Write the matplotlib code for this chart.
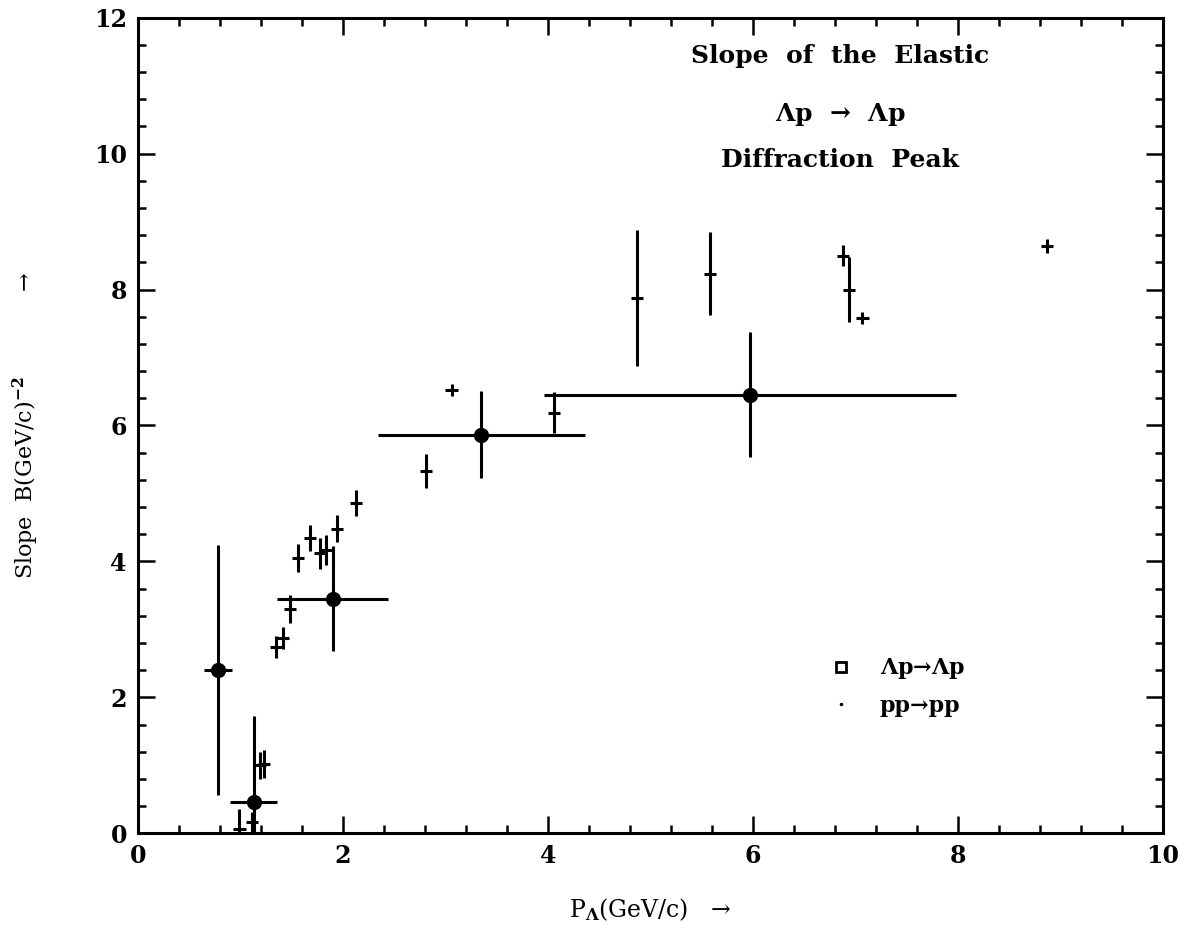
import matplotlib.pyplot as plt
from matplotlib.lines import Line2D
import numpy as np

# Lambda p -> Lambda p (filled circles, with momentum bins)
lp_x = [0.78, 1.13, 1.90, 3.35, 5.97]
lp_y = [2.40, 0.46, 3.45, 5.86, 6.45]
lp_xerr = [0.14, 0.23, 0.54, 1.01, 2.01]
lp_yerr = [1.84, 1.26, 0.77, 0.64, 0.92]

# pp -> pp (crosses)
pp_x = [0.99, 1.11, 1.19, 1.23, 1.35, 1.41, 1.48, 1.56, 1.68, 1.78, 1.83,
        1.94, 2.13, 2.81, 3.06, 4.06, 4.87, 5.58, 6.88, 6.94, 7.07, 8.87]
pp_y = [0.06, 0.16, 1.00, 1.02, 2.74, 2.87, 3.30, 4.05, 4.34, 4.12, 4.17,
        4.48, 4.86, 5.33, 6.52, 6.19, 7.88, 8.23, 8.50, 8.00, 7.58, 8.64]
pp_yerr = [0.30, 0.15, 0.20, 0.20, 0.16, 0.16, 0.20, 0.20, 0.19, 0.23, 0.22,
           0.20, 0.19, 0.25, 0.09, 0.30, 1.00, 0.61, 0.15, 0.48, 0.09, 0.10]
pp_xerr = [0.06, 0.06, 0.06, 0.06, 0.06, 0.06, 0.06, 0.06, 0.06, 0.06, 0.06,
           0.06, 0.06, 0.06, 0.06, 0.06, 0.06, 0.06, 0.06, 0.06, 0.06, 0.06]

title_lines = ['Slope  of  the  Elastic', r'$\mathbf{\Lambda}$p  →  $\mathbf{\Lambda}$p', 'Diffraction  Peak']
title_y = [11.43, 10.57, 9.91]

plt.rcParams['font.family'] = ['DejaVu Serif']
plt.rcParams['font.weight'] = 'bold'
plt.rcParams['mathtext.fontset'] = 'dejavuserif'

fig = plt.figure(figsize=(11.9, 9.3), dpi=100)
ax = fig.add_axes([0.116, 0.104, 0.861, 0.877])

ax.errorbar(lp_x, lp_y, xerr=lp_xerr, yerr=lp_yerr, fmt='o', color='black',
            ms=10, elinewidth=2.2, capsize=0)
ax.errorbar(pp_x, pp_y, xerr=pp_xerr, yerr=pp_yerr, fmt='none', ecolor='black',
            elinewidth=2.2, capsize=0)

ax.set_xlim(0, 10)
ax.set_ylim(0, 12)
ax.set_xticks(np.arange(0, 11, 2))
ax.set_yticks(np.arange(0, 13, 2))
ax.set_xticks(np.arange(0, 10.01, 0.4), minor=True)
ax.set_yticks(np.arange(0, 12.01, 0.4), minor=True)
ax.tick_params(which='both', direction='in', top=True, right=True, width=1.8,
               labelsize=17, pad=8)
ax.tick_params(which='major', length=12)
ax.tick_params(which='minor', length=6)
for s in ax.spines.values():
    s.set_linewidth(2.2)

ax.set_xlabel(r'P$_{\mathbf{\Lambda}}$(GeV/c)   →', fontsize=17, labelpad=20)
ax.set_ylabel(r'Slope  B(GeV/c)$^{\mathbf{-2}}$            →', fontsize=16, labelpad=38)

for t, y in zip(title_lines, title_y):
    ax.text(6.85, y, t, ha='center', va='center', fontsize=18)

handles = [Line2D([], [], marker='s', mfc='white', mec='black', mew=2, ms=7, ls='none'),
           Line2D([], [], marker='.', color='black', ms=3, ls='none')]
ax.legend(handles, [r'$\mathbf{\Lambda}$p→$\mathbf{\Lambda}$p', 'pp→pp'], loc='center left',
          bbox_to_anchor=(0.65, 0.18), frameon=False, fontsize=16,
          handlelength=1.5, handletextpad=1.0, labelspacing=0.6)

fig.savefig('out.png', dpi=100)
plt.close(fig)
